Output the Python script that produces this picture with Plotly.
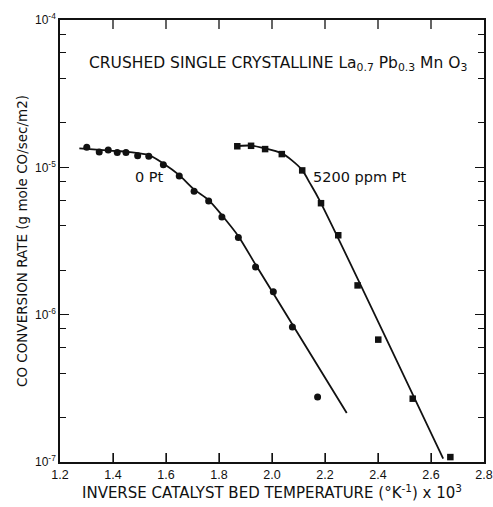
import plotly.graph_objects as go

# Measured rates, 0 Pt sample
pt0_x = [1.301, 1.348, 1.382, 1.416, 1.449, 1.493, 1.535, 1.590, 1.650, 1.706,
         1.761, 1.811, 1.873, 1.938, 2.005, 2.077, 2.172]
pt0_y = [1.37e-5, 1.27e-5, 1.31e-5, 1.26e-5, 1.26e-5, 1.20e-5, 1.19e-5, 1.04e-5,
         8.75e-6, 6.89e-6, 5.91e-6, 4.61e-6, 3.34e-6, 2.11e-6, 1.43e-6, 8.24e-7, 2.76e-7]

# Fitted curve through the 0 Pt data
pt0_fit_x = [1.273, 1.389, 1.464, 1.535, 1.590, 1.650, 1.706, 1.761, 1.811, 1.873,
             1.939, 1.993, 2.282]
pt0_fit_y = [1.344e-5, 1.299e-5, 1.269e-5, 1.210e-5, 1.063e-5, 8.85e-6, 7.08e-6,
             5.99e-6, 4.73e-6, 3.41e-6, 2.17e-6, 1.51e-6, 2.15e-7]

# Measured rates, 5200 ppm Pt sample
pt5200_x = [1.869, 1.921, 1.974, 2.037, 2.114, 2.185, 2.250, 2.323, 2.401, 2.531, 2.673]
pt5200_y = [1.39e-5, 1.40e-5, 1.33e-5, 1.23e-5, 9.53e-6, 5.71e-6, 3.46e-6, 1.58e-6,
            6.77e-7, 2.69e-7, 1.08e-7]

# Fitted curve through the 5200 ppm Pt data
pt5200_fit_x = [1.860, 1.921, 1.974, 2.037, 2.074, 2.114, 2.143, 2.179, 2.646]
pt5200_fit_y = [1.393e-5, 1.404e-5, 1.344e-5, 1.243e-5, 1.119e-5, 9.57e-6, 7.81e-6,
                5.99e-6, 1.053e-7]

x_ticks = [1.2, 1.4, 1.6, 1.8, 2.0, 2.2, 2.4, 2.6, 2.8]
y_ticks = [1e-7, 1e-6, 1e-5, 1e-4]
y_ticklabels = ["10<sup>-7</sup>", "10<sup>-6</sup>", "10<sup>-5</sup>", "10<sup>-4</sup>"]
y_minor = [m * 10.0 ** e for e in (-7, -6, -5) for m in (2, 4, 6, 8)]

FONT = "DejaVu Sans"
INK = "#111111"
X_RANGE = [1.2, 2.8]
Y_RANGE = [-7, -4]
Y_LO, Y_HI = 10.0 ** Y_RANGE[0], 10.0 ** Y_RANGE[1]
TICK_FACTOR = 1.15  # inward x-tick length as a factor on the log axis

fig = go.Figure()
fig.add_trace(go.Scatter(x=pt0_fit_x, y=pt0_fit_y, mode="lines",
                         line=dict(color=INK, width=1.8, shape="spline", smoothing=0.8),
                         hoverinfo="skip"))
fig.add_trace(go.Scatter(x=pt5200_fit_x, y=pt5200_fit_y, mode="lines",
                         line=dict(color=INK, width=1.8, shape="spline", smoothing=0.8),
                         hoverinfo="skip"))
fig.add_trace(go.Scatter(x=pt0_x, y=pt0_y, mode="markers",
                         marker=dict(symbol="circle", size=7, color=INK)))
fig.add_trace(go.Scatter(x=pt5200_x, y=pt5200_y, mode="markers",
                         marker=dict(symbol="square", size=6.5, color=INK)))

# inward x ticks along the bottom and top edges of the frame
tick_x, tick_y = [], []
for t in x_ticks[1:-1]:
    tick_x += [t, t, None, t, t, None]
    tick_y += [Y_LO, Y_LO * TICK_FACTOR, None, Y_HI, Y_HI / TICK_FACTOR, None]
fig.add_trace(go.Scatter(x=tick_x, y=tick_y, mode="lines",
                         line=dict(color=INK, width=1.3), hoverinfo="skip"))

# empty trace so the top/right frame axes are drawn
fig.add_trace(go.Scatter(x=[], y=[], xaxis="x2", yaxis="y2", hoverinfo="skip"))

frame_style = dict(showline=True, linecolor=INK, linewidth=1.6,
                   showgrid=False, zeroline=False, automargin=False)
ytick_style = dict(ticks="inside", ticklen=9, tickwidth=1.2, tickcolor=INK,
                   tickmode="array", tickvals=y_ticks,
                   minor=dict(tickmode="array", tickvals=y_minor, ticks="inside",
                              ticklen=6, tickwidth=1.1, tickcolor=INK, showgrid=False))

fig.update_layout(
    width=493, height=507,
    margin=dict(l=60, r=9, t=20, b=45),
    paper_bgcolor="white", plot_bgcolor="white",
    showlegend=False,
    font=dict(family=FONT, color=INK, size=12),
    xaxis=dict(
        range=X_RANGE, tickmode="array", tickvals=x_ticks,
        ticktext=[f"{v:.1f}" for v in x_ticks],
        ticks="inside", ticklen=9, tickwidth=1.3, tickcolor=INK,
        tickfont=dict(size=12.5, family="Liberation Sans"),
        title=dict(text="INVERSE CATALYST BED TEMPERATURE (°K<sup>-1</sup>) x 10<sup>3</sup>",
                   font=dict(size=15), standoff=0),
        **frame_style,
    ),
    yaxis=dict(
        type="log", range=Y_RANGE, ticktext=y_ticklabels,
        tickfont=dict(size=12, family="Liberation Sans"),
        title=dict(text="CO CONVERSION RATE (g mole CO/sec/m2)",
                   font=dict(size=13.5), standoff=4),
        **ytick_style, **frame_style,
    ),
    xaxis2=dict(
        overlaying="x", side="top", anchor="y", range=X_RANGE, showticklabels=False,
        ticks="", **frame_style,
    ),
    yaxis2=dict(
        overlaying="y", side="right", anchor="x", type="log", range=Y_RANGE,
        showticklabels=False,
        **ytick_style, **frame_style,
    ),
    annotations=[
        dict(text="CRUSHED SINGLE CRYSTALLINE La<sub>0.7</sub> Pb<sub>0.3</sub> Mn O<sub>3</sub>",
             xref="paper", yref="paper", x=0.513, y=0.90, xanchor="center", yanchor="middle",
             showarrow=False, font=dict(size=15.5, family=FONT, color=INK)),
        dict(text="0 Pt", xref="paper", yref="paper", x=0.21, y=0.6446,
             xanchor="center", yanchor="middle",
             showarrow=False, font=dict(size=14.5, family=FONT, color=INK)),
        dict(text="5200 ppm Pt", xref="paper", yref="paper", x=0.7075, y=0.6446,
             xanchor="center", yanchor="middle",
             showarrow=False, font=dict(size=14.5, family=FONT, color=INK)),
    ],
)

fig.write_html("out.html")
